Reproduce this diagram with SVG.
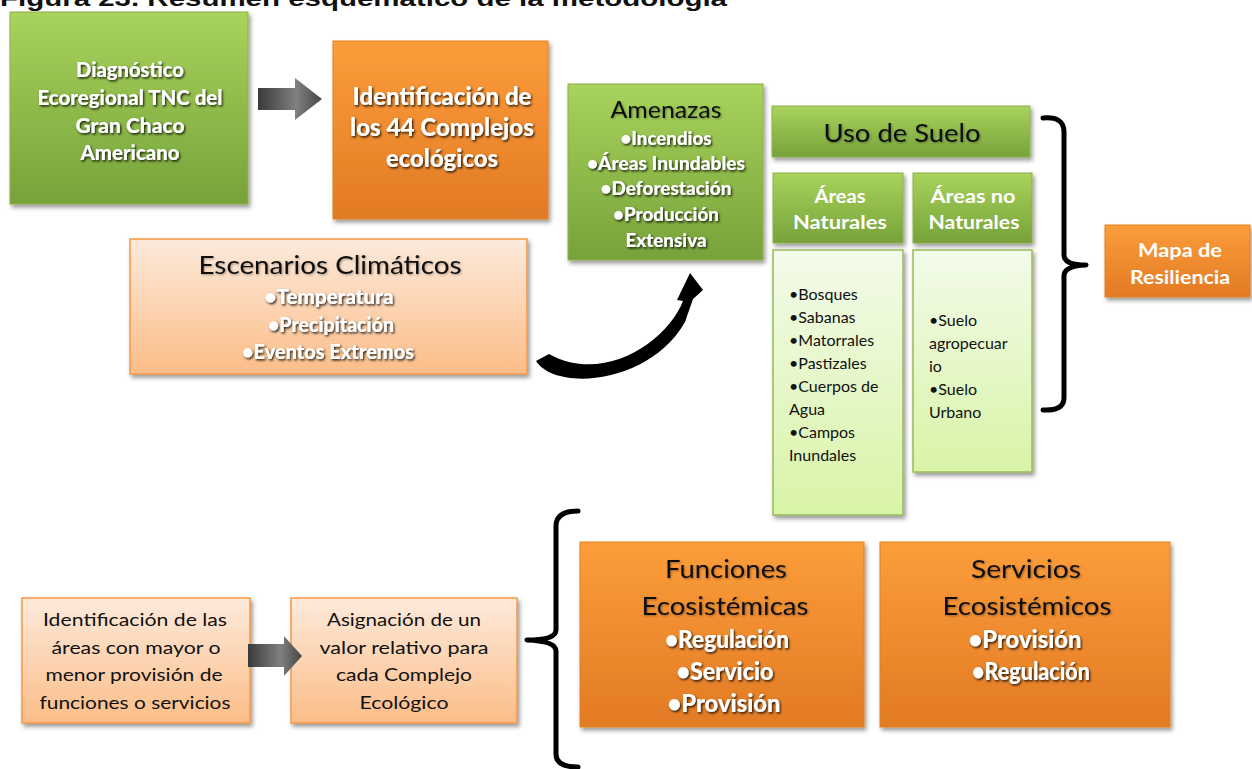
<svg xmlns="http://www.w3.org/2000/svg" width="1252" height="769" viewBox="0 0 1252 769">
<defs>
<linearGradient id="gGreen" x1="0" y1="0" x2="0" y2="1"><stop offset="0" stop-color="#a8d35c"/><stop offset="1" stop-color="#77a23a"/></linearGradient>
<linearGradient id="gOrange" x1="0" y1="0" x2="0" y2="1"><stop offset="0" stop-color="#fc9d3a"/><stop offset="1" stop-color="#e27a24"/></linearGradient>
<linearGradient id="gLOrange" x1="0" y1="0" x2="0" y2="1"><stop offset="0" stop-color="#fdeadb"/><stop offset="1" stop-color="#fbbd88"/></linearGradient>
<linearGradient id="gLGreen" x1="0" y1="0" x2="0" y2="1"><stop offset="0" stop-color="#f3fbea"/><stop offset="1" stop-color="#d8f4a7"/></linearGradient>
<linearGradient id="gGray" x1="0" y1="0" x2="1" y2="0"><stop offset="0" stop-color="#3a3a3a"/><stop offset="0.6" stop-color="#808080"/><stop offset="1" stop-color="#454545"/></linearGradient>
<filter id="sh" x="-10%" y="-10%" width="125%" height="130%"><feDropShadow dx="2" dy="3" stdDeviation="2" flood-color="#000" flood-opacity="0.4"/></filter>
<filter id="tsh" x="-10%" y="-30%" width="120%" height="170%"><feDropShadow dx="1.2" dy="1.5" stdDeviation="1.1" flood-color="#000" flood-opacity="0.85"/></filter>
<filter id="tsh2" x="-10%" y="-30%" width="120%" height="170%"><feDropShadow dx="1" dy="1" stdDeviation="1" flood-color="#000" flood-opacity="0.35"/></filter>
</defs>
<style>
.t{font-family:Lato,"Liberation Sans",sans-serif;text-anchor:middle}
.w{fill:#fff;font-weight:900;filter:url(#tsh)}
.d{fill:#111;filter:url(#tsh2)}
.lt{fill:#fff;font-weight:700}
.l{font-family:Lato,"Liberation Sans",sans-serif;fill:#111;font-size:16px}
.grn{fill:url(#gGreen);stroke:#8fb04a;stroke-width:1;filter:url(#sh)}
.org{fill:url(#gOrange);stroke:#e0821f;stroke-width:1;filter:url(#sh)}
.lorg{fill:url(#gLOrange);stroke:#f79646;stroke-width:1.5;filter:url(#sh)}
.lgrn{fill:url(#gLGreen);stroke:#9bbb59;stroke-width:1.5;filter:url(#sh)}
.br{fill:none;stroke:#000;stroke-width:5;stroke-linejoin:round;stroke-linecap:round}
.ga{fill:url(#gGray)}
</style>

<text x="0" y="6" font-family="'Liberation Sans',Arial,sans-serif" font-weight="700" font-size="22" fill="#111" textLength="727" lengthAdjust="spacingAndGlyphs">Figura 23. Resumen esquemático de la metodología</text>

<g id="diagnostico">
<rect class="grn" x="10" y="12" width="238" height="192"/>
<text class="t w" font-size="21"><tspan x="130" y="77" textLength="108" lengthAdjust="spacingAndGlyphs">Diagnóstico</tspan><tspan x="130" y="105" textLength="185" lengthAdjust="spacingAndGlyphs">Ecoregional TNC del</tspan><tspan x="130" y="133" textLength="109" lengthAdjust="spacingAndGlyphs">Gran Chaco</tspan><tspan x="130" y="160" textLength="99" lengthAdjust="spacingAndGlyphs">Americano</tspan></text>
</g>

<g id="complejos">
<rect class="org" x="333" y="41" width="215" height="178"/>
<text class="t w" font-size="25"><tspan x="442" y="105" textLength="179" lengthAdjust="spacingAndGlyphs">Identificación de</tspan><tspan x="442" y="136" textLength="184" lengthAdjust="spacingAndGlyphs">los 44 Complejos</tspan><tspan x="442" y="167" textLength="112" lengthAdjust="spacingAndGlyphs">ecológicos</tspan></text>
</g>

<g id="amenazas">
<rect class="grn" x="568" y="84" width="195" height="176"/>
<text class="t d" font-size="23" x="666" y="118" textLength="111" lengthAdjust="spacingAndGlyphs">Amenazas</text>
<text class="t w" font-size="19"><tspan x="666" y="145" textLength="91" lengthAdjust="spacingAndGlyphs">•Incendios</tspan><tspan x="666" y="170" textLength="158" lengthAdjust="spacingAndGlyphs">•Áreas Inundables</tspan><tspan x="666" y="195" textLength="131" lengthAdjust="spacingAndGlyphs">•Deforestación</tspan><tspan x="666" y="221" textLength="106" lengthAdjust="spacingAndGlyphs">•Producción</tspan><tspan x="666" y="247" textLength="81" lengthAdjust="spacingAndGlyphs">Extensiva</tspan></text>
</g>

<g id="uso-suelo">
<rect class="grn" x="772" y="106" width="258" height="51"/>
<text class="t d" font-size="25" x="902" y="142" textLength="157" lengthAdjust="spacingAndGlyphs">Uso de Suelo</text>
</g>

<g id="areas-naturales">
<rect class="grn" x="773" y="173" width="130" height="70"/>
<text class="t lt" font-size="19"><tspan x="840" y="203" textLength="51" lengthAdjust="spacingAndGlyphs">Áreas</tspan><tspan x="840" y="229" textLength="94" lengthAdjust="spacingAndGlyphs">Naturales</tspan></text>
</g>

<g id="areas-no-naturales">
<rect class="grn" x="913" y="173" width="119" height="70"/>
<text class="t lt" font-size="19"><tspan x="973" y="203" textLength="85" lengthAdjust="spacingAndGlyphs">Áreas no</tspan><tspan x="974" y="229" textLength="91" lengthAdjust="spacingAndGlyphs">Naturales</tspan></text>
</g>

<g id="lista-naturales">
<rect class="lgrn" x="773" y="250" width="130" height="265"/>
<text class="l"><tspan x="789" y="300">•Bosques</tspan><tspan x="789" y="323">•Sabanas</tspan><tspan x="789" y="346">•Matorrales</tspan><tspan x="789" y="369">•Pastizales</tspan><tspan x="789" y="392">•Cuerpos de</tspan><tspan x="789" y="415">Agua</tspan><tspan x="789" y="438">•Campos</tspan><tspan x="789" y="461">Inundales</tspan></text>
</g>

<g id="lista-no-naturales">
<rect class="lgrn" x="913" y="250" width="119" height="222"/>
<text class="l"><tspan x="929" y="326">•Suelo</tspan><tspan x="929" y="349">agropecuar</tspan><tspan x="929" y="372">io</tspan><tspan x="929" y="395">•Suelo</tspan><tspan x="929" y="418">Urbano</tspan></text>
</g>

<g id="mapa-resiliencia">
<rect class="org" x="1105" y="225" width="145" height="72"/>
<text class="t lt" font-size="19"><tspan x="1180" y="257" textLength="84" lengthAdjust="spacingAndGlyphs">Mapa de</tspan><tspan x="1180" y="284" textLength="100" lengthAdjust="spacingAndGlyphs">Resiliencia</tspan></text>
</g>

<g id="escenarios">
<rect class="lorg" x="130" y="239" width="397" height="135"/>
<text class="t d" font-size="25" x="330" y="274" textLength="263" lengthAdjust="spacingAndGlyphs">Escenarios Climáticos</text>
<text class="t w" font-size="20"><tspan x="329" y="304" textLength="129" lengthAdjust="spacingAndGlyphs">•Temperatura</tspan><tspan x="331" y="332" textLength="126" lengthAdjust="spacingAndGlyphs">•Precipitación</tspan><tspan x="328" y="359" textLength="172" lengthAdjust="spacingAndGlyphs">•Eventos Extremos</tspan></text>
</g>

<g id="identificacion-areas">
<rect class="lorg" x="22" y="598" width="228" height="125"/>
<text class="t" fill="#111" font-size="18"><tspan x="135" y="626" textLength="184" lengthAdjust="spacingAndGlyphs">Identificación de las</tspan><tspan x="136" y="654" textLength="169" lengthAdjust="spacingAndGlyphs">áreas con mayor o</tspan><tspan x="134" y="681" textLength="177" lengthAdjust="spacingAndGlyphs">menor provisión de</tspan><tspan x="135" y="709" textLength="191" lengthAdjust="spacingAndGlyphs">funciones o servicios</tspan></text>
</g>

<g id="asignacion">
<rect class="lorg" x="291" y="598" width="226" height="125"/>
<text class="t" fill="#111" font-size="18"><tspan x="404" y="626" textLength="154" lengthAdjust="spacingAndGlyphs">Asignación de un</tspan><tspan x="404" y="654" textLength="169" lengthAdjust="spacingAndGlyphs">valor relativo para</tspan><tspan x="404" y="681" textLength="136" lengthAdjust="spacingAndGlyphs">cada Complejo</tspan><tspan x="404" y="709" textLength="89" lengthAdjust="spacingAndGlyphs">Ecológico</tspan></text>
</g>

<g id="funciones">
<rect class="org" x="580" y="542" width="284" height="185"/>
<text class="t d" font-size="25"><tspan x="726" y="578" textLength="122" lengthAdjust="spacingAndGlyphs">Funciones</tspan><tspan x="725" y="615" textLength="167" lengthAdjust="spacingAndGlyphs">Ecosistémicas</tspan></text>
<text class="t w" font-size="24"><tspan x="727" y="648" textLength="124" lengthAdjust="spacingAndGlyphs">•Regulación</tspan><tspan x="725" y="680" textLength="97" lengthAdjust="spacingAndGlyphs">•Servicio</tspan><tspan x="724" y="712" textLength="113" lengthAdjust="spacingAndGlyphs">•Provisión</tspan></text>
</g>

<g id="servicios">
<rect class="org" x="880" y="542" width="290" height="185"/>
<text class="t d" font-size="25"><tspan x="1026" y="578" textLength="110" lengthAdjust="spacingAndGlyphs">Servicios</tspan><tspan x="1027" y="615" textLength="169" lengthAdjust="spacingAndGlyphs">Ecosistémicos</tspan></text>
<text class="t w" font-size="24"><tspan x="1025" y="648" textLength="113" lengthAdjust="spacingAndGlyphs">•Provisión</tspan><tspan x="1031" y="680" textLength="118" lengthAdjust="spacingAndGlyphs">•Regulación</tspan></text>
</g>

<g id="connectors">
<polygon class="ga" points="258,88 295,88 295,78 322,99 295,120 295,110 258,110"/>
<polygon class="ga" points="248,644 284,644 284,636 302,656 284,676 284,667 248,667"/>
<path fill="#000" d="M536,361 C556,392 650,384 685,322 L693,299 L703,290 L690,273 L677,300 L683,301 C668,340 605,385 549,354 Z"/>
<path class="br" d="M1043,118 Q1064,116 1064,132 L1064,255 Q1064,265 1086,265 Q1064,266 1064,276 L1064,398 Q1064,411 1043,410"/>
<path class="br" d="M578,511 Q556,511 556,526 L556,630 Q556,640 527,640 Q556,641 556,651 L556,754 Q556,767 578,767"/>
</g>
</svg>
